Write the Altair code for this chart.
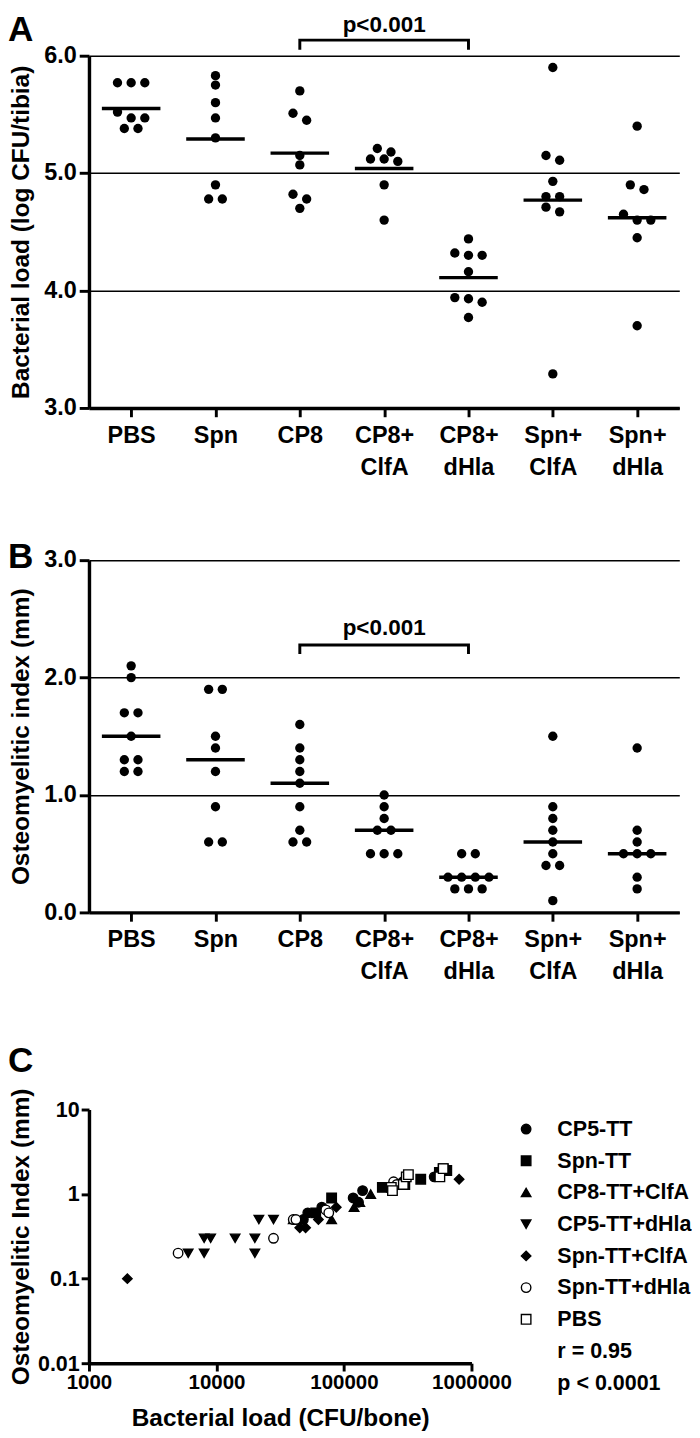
import json
import altair as alt
import pandas as pd

FONT = "Liberation Sans"

# ---------------- data ----------------
categories = ["PBS", "Spn", "CP8", "CP8+ClfA", "CP8+dHla", "Spn+ClfA", "Spn+dHla"]
category_lines = [["PBS"], ["Spn"], ["CP8"], ["CP8+", "ClfA"], ["CP8+", "dHla"],
                  ["Spn+", "ClfA"], ["Spn+", "dHla"]]

# Panel A: bacterial load (log CFU/tibia)
load_pbs = [5.77, 5.77, 5.77, 5.52, 5.47, 5.47, 5.38, 5.38]
load_spn = [5.83, 5.75, 5.60, 5.47, 5.30, 4.90, 4.78, 4.78]
load_cp8 = [5.70, 5.51, 5.45, 5.15, 5.07, 4.82, 4.78, 4.70]
load_cp8_clfa = [5.21, 5.18, 5.12, 5.12, 5.10, 4.90, 4.60]
load_cp8_dhla = [4.44, 4.32, 4.30, 4.30, 4.16, 3.94, 3.93, 3.90, 3.77]
load_spn_clfa = [5.90, 5.15, 5.11, 4.93, 4.80, 4.80, 4.71, 4.67, 3.29]
load_spn_dhla = [5.40, 4.90, 4.86, 4.65, 4.60, 4.60, 4.45, 3.70]
load_groups = [load_pbs, load_spn, load_cp8, load_cp8_clfa, load_cp8_dhla,
               load_spn_clfa, load_spn_dhla]
load_lines = [5.55, 5.29, 5.17, 5.04, 4.11, 4.77, 4.62]

# Panel B: osteomyelitic index (mm)
oi_pbs = [2.1, 2.0, 1.7, 1.7, 1.5, 1.3, 1.3, 1.2, 1.2]
oi_spn = [1.9, 1.9, 1.5, 1.4, 1.2, 0.9, 0.6, 0.6]
oi_cp8 = [1.6, 1.4, 1.3, 1.2, 1.1, 0.9, 0.7, 0.6, 0.6]
oi_cp8_clfa = [1.0, 0.9, 0.8, 0.7, 0.7, 0.5, 0.5, 0.5]
oi_cp8_dhla = [0.5, 0.5, 0.3, 0.3, 0.3, 0.3, 0.2, 0.2, 0.2]
oi_spn_clfa = [1.5, 0.9, 0.8, 0.7, 0.6, 0.5, 0.4, 0.4, 0.1]
oi_spn_dhla = [1.4, 0.7, 0.6, 0.5, 0.5, 0.5, 0.3, 0.2]
oi_groups = [oi_pbs, oi_spn, oi_cp8, oi_cp8_clfa, oi_cp8_dhla, oi_spn_clfa, oi_spn_dhla]
oi_lines = [1.5, 1.3, 1.1, 0.7, 0.3, 0.6, 0.5]

sig_pair = ["CP8", "CP8+dHla"]
sig_text = "p<0.001"

# Panel C: correlation
legend_entries = ["CP5-TT", "Spn-TT", "CP8-TT+ClfA", "CP5-TT+dHla", "Spn-TT+ClfA",
                  "Spn-TT+dHla", "PBS", "r = 0.95", "p < 0.0001"]
c_cp5_x = [48000, 52000, 67000, 118000, 130000, 140000, 290000, 510000]
c_cp5_y = [0.5, 0.6, 0.7, 0.9, 0.8, 1.1, 1.4, 1.6]
c_spn_x = [60000, 80000, 200000, 300000, 400000, 560000, 600000, 640000]
c_spn_y = [0.6, 0.9, 1.2, 1.3, 1.5, 1.8, 2.0, 1.9]
c_cp8clfa_x = [40000, 80000, 120000, 133000, 162000, 280000]
c_cp8clfa_y = [0.5, 0.5, 0.7, 0.8, 1.0, 1.3]
c_cp5dhla_x = [6000, 8000, 8000, 9000, 14000, 20000, 20000, 21500, 28000]
c_cp5dhla_y = [0.2, 0.2, 0.3, 0.3, 0.3, 0.3, 0.2, 0.5, 0.5]
c_spnclfa_x = [2000, 45000, 50000, 63000, 87000, 270000, 300000, 800000]
c_spnclfa_y = [0.1, 0.4, 0.4, 0.5, 0.7, 1.3, 1.4, 1.5]
c_spndhla_x = [5000, 28000, 40000, 42000, 72000, 76000, 245000, 260000]
c_spndhla_y = [0.2, 0.3, 0.5, 0.5, 0.65, 0.6, 1.4, 1.3]
c_pbs_x = [235000, 240000, 292000, 308000, 320000, 565000, 600000]
c_pbs_y = [1.2, 1.1, 1.3, 1.6, 1.7, 1.6, 2.0]
c_series = [(c_cp5_x, c_cp5_y), (c_spn_x, c_spn_y), (c_cp8clfa_x, c_cp8clfa_y),
            (c_cp5dhla_x, c_cp5dhla_y), (c_spnclfa_x, c_spnclfa_y),
            (c_spndhla_x, c_spndhla_y), (c_pbs_x, c_pbs_y)]

# ---------------- layout / style ----------------
PW, PH = 605, 361
CW, CH = 392, 260
STEP = PW / 7.0
DOT_GAP = 14.0 / STEP
HALF = 30.0 / STEP
LETTER_X = -83
TITLE_X = -70
ROW_SPACING = 62
LEGEND_Y = 1089


def swarm(groups, thr):
    rows = []
    for gi, vals in enumerate(groups):
        s = sorted(vals, reverse=True)
        i = 0
        while i < len(s):
            j = i
            while j < len(s) and s[i] - s[j] < thr:
                j += 1
            n = j - i
            for k in range(n):
                rows.append({"x": gi + (k - (n - 1) / 2.0) * DOT_GAP, "value": s[i + k]})
            i = j
    return pd.DataFrame(rows)


label_expr = json.dumps(category_lines) + "[datum.value]"


def dot_panel(groups, lines, ymin, ymax, ytitle, letter, letter_y, br_top, br_bot, ptext_y):
    per_px = (ymax - ymin) / PH
    df = swarm(groups, 8.4 * per_px)
    xs = alt.Scale(domain=[-0.5, 6.5], nice=False, zero=False)
    ys = alt.Scale(domain=[ymin, ymax], nice=False, zero=False)
    xaxis = alt.Axis(values=list(range(7)), labelExpr=label_expr, title=None, grid=False,
                     tickSize=9, tickWidth=3, domainWidth=3.5, labelFontSize=24,
                     labelLineHeight=33, labelPadding=7, labelOverlap=False,
                     labelFlush=False, labelBound=False, labelAlign="center")
    yaxis = alt.Axis(values=list(range(int(ymin), int(ymax) + 1)), format=".1f", grid=True,
                     gridColor="black", gridWidth=1.5, tickSize=10, tickWidth=3,
                     domainWidth=3.5, labelFontSize=24, labelPadding=3, title=ytitle,
                     titleFontSize=25, titleAngle=270, titleX=TITLE_X, titleY=PH / 2,
                     titleAlign="center", titleBaseline="middle")
    pts = alt.Chart(df).mark_circle(size=92, color="black", opacity=1).encode(
        x=alt.X("x:Q", scale=xs, axis=xaxis),
        y=alt.Y("value:Q", scale=ys, axis=yaxis),
    )
    ldf = pd.DataFrame({"x": [i - HALF for i in range(7)],
                        "x2": [i + HALF for i in range(7)],
                        "value": lines})
    mean = alt.Chart(ldf).mark_rule(color="black", strokeWidth=3.5).encode(
        x=alt.X("x:Q", scale=xs), x2="x2:Q", y=alt.Y("value:Q", scale=ys))
    i0, i1 = categories.index(sig_pair[0]), categories.index(sig_pair[1])
    bdf = pd.DataFrame({"x": [i0, i0, i1, i1], "value": [br_bot, br_top, br_top, br_bot],
                        "o": [0, 1, 2, 3]})
    bracket = alt.Chart(bdf).mark_line(color="black", strokeWidth=3, strokeJoin="miter",
                                       strokeCap="butt").encode(
        x=alt.X("x:Q", scale=xs), y=alt.Y("value:Q", scale=ys), order="o:Q")
    tdf = pd.DataFrame({"x": [(i0 + i1) / 2.0], "value": [ptext_y], "t": [sig_text]})
    ptext = alt.Chart(tdf).mark_text(font=FONT, fontSize=23, fontWeight="bold",
                                     baseline="middle", align="center", color="black").encode(
        x=alt.X("x:Q", scale=xs), y=alt.Y("value:Q", scale=ys), text="t:N")
    let = alt.Chart(pd.DataFrame({"t": [letter]})).mark_text(
        font=FONT, fontSize=36, fontWeight="bold", align="left", baseline="alphabetic",
        color="black").encode(x=alt.value(LETTER_X), y=alt.value(letter_y), text="t:N")
    return alt.layer(pts, mean, bracket, ptext, let).properties(width=PW, height=PH)


panel_a = dot_panel(load_groups, load_lines, 3, 6, "Bacterial load (log CFU/tibia)", "A",
                    -15, 6.133, 6.05, 6.258)
panel_b = dot_panel(oi_groups, oi_lines, 0, 3, "Osteomyelitic index (mm)", "B",
                    8, 2.277, 2.20, 2.42)

# Panel C
rows = []
for name, (xs_, ys_) in zip(legend_entries, c_series):
    for xv, yv in zip(xs_, ys_):
        rows.append({"group": name, "load": xv, "oi": yv})
cdf = pd.DataFrame(rows)

shape_range = ["circle", "square", "triangle-up", "triangle-down", "diamond", "circle",
               "square", "M0,0", "M0,0"]
fill_range = ["black", "black", "black", "black", "black", "white", "white", "white", "white"]
stroke_range = ["black"] * len(legend_entries)

leg = alt.Legend(title=None, orient="none", legendX=437, legendY=LEGEND_Y,
                 labelFontSize=22, labelFont=FONT, labelFontWeight="bold",
                 labelColor="black", symbolSize=95, symbolStrokeWidth=1.4,
                 rowPadding=10.5, labelOffset=21, padding=0, labelLimit=400,
                 symbolOpacity=1)

cx_axis = alt.Axis(values=[1000, 10000, 100000, 1000000], format="d",
                   title="Bacterial load (CFU/bone)", titleFontSize=25, titlePadding=14,
                   labelFontSize=21, labelPadding=1, tickSize=8, tickWidth=3,
                   domainWidth=3.5, grid=False, labelFlush=False, labelOverlap=False)
cy_axis = alt.Axis(values=[0.01, 0.1, 1, 10], format="~g", title="Osteomyelitic Index (mm)",
                   titleFontSize=25, titleAngle=270, titleX=TITLE_X, titleY=CH / 2,
                   titleAlign="center", titleBaseline="middle", labelFontSize=22,
                   labelPadding=2, tickSize=8, tickWidth=3, domainWidth=3.5, grid=False)

cpts = alt.Chart(cdf).mark_point(filled=True, strokeWidth=1.4, size=95, opacity=1).encode(
    x=alt.X("load:Q", scale=alt.Scale(type="log", domain=[1000, 1000000], nice=False),
            axis=cx_axis),
    y=alt.Y("oi:Q", scale=alt.Scale(type="log", domain=[0.01, 10], nice=False), axis=cy_axis),
    shape=alt.Shape("group:N", scale=alt.Scale(domain=legend_entries, range=shape_range),
                    legend=leg),
    fill=alt.Fill("group:N", scale=alt.Scale(domain=legend_entries, range=fill_range),
                  legend=leg),
    stroke=alt.Stroke("group:N", scale=alt.Scale(domain=legend_entries, range=stroke_range),
                      legend=leg),
)
c_letter = alt.Chart(pd.DataFrame({"t": ["C"]})).mark_text(
    font=FONT, fontSize=36, fontWeight="bold", align="left", baseline="alphabetic",
    color="black").encode(x=alt.value(LETTER_X), y=alt.value(-38), text="t:N")
panel_c = alt.layer(cpts, c_letter).properties(width=CW, height=CH)

chart = alt.vconcat(panel_a, panel_b, panel_c, spacing=ROW_SPACING).properties(
    padding={"left": 0, "top": -13, "right": 0, "bottom": 0}
).configure_view(stroke=None).configure_axis(
    domainColor="black", tickColor="black", labelColor="black", titleColor="black",
    labelFont=FONT, titleFont=FONT, labelFontWeight="bold", titleFontWeight="bold",
)

chart.save("out.html", embed_options={"renderer": "svg", "actions": False})
